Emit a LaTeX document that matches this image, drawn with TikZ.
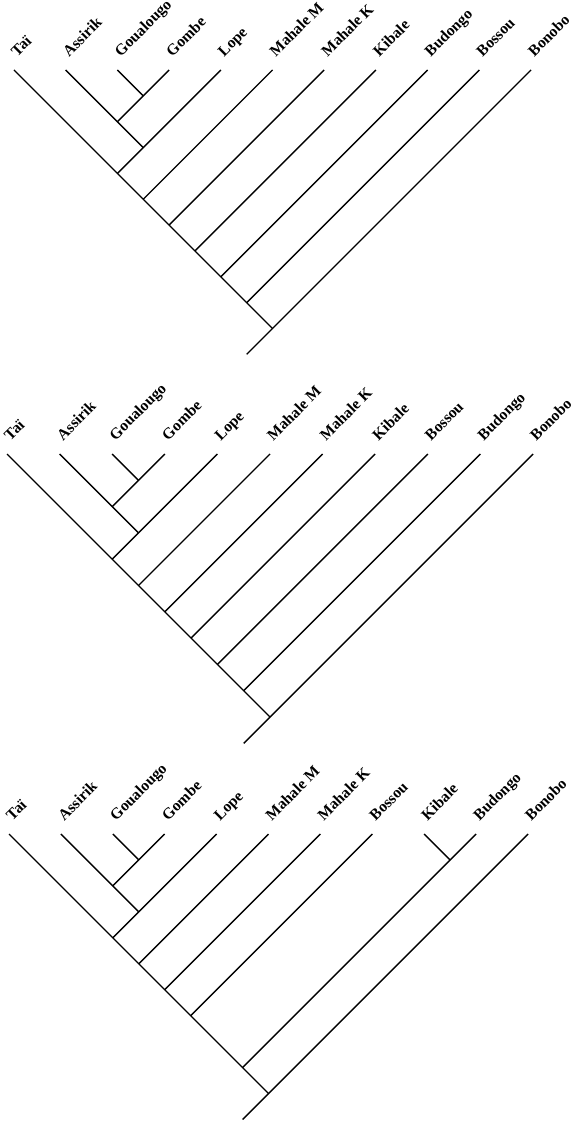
\documentclass[tikz,border=0pt]{standalone}
\usepackage{fontspec}
\setmainfont{Liberation Serif}
\usetikzlibrary{positioning}

\begin{document}
\begin{tikzpicture}[
    x=0.5pt, y=-0.5pt,
    branch/.style={line width=0.7pt},
    taxon/.style={anchor=base west, rotate=45, inner sep=0pt, font=\bfseries\fontsize{7.8}{9}\selectfont}
]
\useasboundingbox (0,0) rectangle (579,1122);

% tree 1
\begin{scope}[shift={(14,70)}, x=12.925pt, y=-12.925pt]
\coordinate (atai) at (0,0);
\coordinate (aass) at (2,0);
\coordinate (agou) at (4,0);
\coordinate (agom) at (6,0);
\coordinate (alope) at (8,0);
\coordinate (amahm) at (10,0);
\coordinate (amahk) at (12,0);
\coordinate (akib) at (14,0);
\coordinate (abud) at (16,0);
\coordinate (abos) at (18,0);
\coordinate (abon) at (20,0);
\coordinate (a1) at (5,1);
\coordinate (a2) at (4,2);
\coordinate (a3) at (5,3);
\coordinate (a4) at (4,4);
\coordinate (a5) at (5,5);
\coordinate (a6) at (6,6);
\coordinate (a7) at (7,7);
\coordinate (a8) at (8,8);
\coordinate (a9) at (9,9);
\coordinate (a10) at (10,10);
\coordinate (aroot) at (9,11);

\node[taxon] (ltai) at (0.12,-0.48) {Taï};
\node[taxon] (lass) at (2.12,-0.48) {Assirik};
\node[taxon] (lgou) at (4.12,-0.48) {Goualougo};
\node[taxon] (lgom) at (6.12,-0.48) {Gombe};
\node[taxon] (llope) at (8.12,-0.48) {Lope};
\node[taxon] (lmahm) at (10.12,-0.48) {Mahale M};
\node[taxon] (lmahk) at (12.12,-0.48) {Mahale K};
\node[taxon] (lkib) at (14.12,-0.48) {Kibale};
\node[taxon] (lbud) at (16.12,-0.48) {Budongo};
\node[taxon] (lbos) at (18.12,-0.48) {Bossou};
\node[taxon] (lbon) at (20.12,-0.48) {Bonobo};

\draw[branch] (atai) -- (a4) -- (a10);
\draw[branch] (aass) -- (a2) -- (a3);
\draw[branch] (agou) -- (a1);
\draw[branch] (agom) -- (a1) -- (a2);
\draw[branch] (alope) -- (a3) -- (a4);
\draw[branch] (amahm) -- (a5);
\draw[branch] (amahk) -- (a6);
\draw[branch] (akib) -- (a7);
\draw[branch] (abud) -- (a8);
\draw[branch] (abos) -- (a9);
\draw[branch] (abon) -- (a10) -- (aroot);
\end{scope}

% tree 2
\begin{scope}[shift={(7,454)}, x=13.15pt, y=-13.15pt]
\coordinate (btai) at (0,0);
\coordinate (bass) at (2,0);
\coordinate (bgou) at (4,0);
\coordinate (bgom) at (6,0);
\coordinate (blope) at (8,0);
\coordinate (bmahm) at (10,0);
\coordinate (bmahk) at (12,0);
\coordinate (bkib) at (14,0);
\coordinate (bbos) at (16,0);
\coordinate (bbud) at (18,0);
\coordinate (bbon) at (20,0);
\coordinate (b1) at (5,1);
\coordinate (b2) at (4,2);
\coordinate (b3) at (5,3);
\coordinate (b4) at (4,4);
\coordinate (b5) at (5,5);
\coordinate (b6) at (6,6);
\coordinate (b7) at (7,7);
\coordinate (b8) at (8,8);
\coordinate (b9) at (9,9);
\coordinate (b10) at (10,10);
\coordinate (broot) at (9,11);

\node[taxon] (mtai) at (0.12,-0.48) {Taï};
\node[taxon] (mass) at (2.12,-0.48) {Assirik};
\node[taxon] (mgou) at (4.12,-0.48) {Goualougo};
\node[taxon] (mgom) at (6.12,-0.48) {Gombe};
\node[taxon] (mlope) at (8.12,-0.48) {Lope};
\node[taxon] (mmahm) at (10.12,-0.48) {Mahale M};
\node[taxon] (mmahk) at (12.12,-0.48) {Mahale K};
\node[taxon] (mkib) at (14.12,-0.48) {Kibale};
\node[taxon] (mbos) at (16.12,-0.48) {Bossou};
\node[taxon] (mbud) at (18.12,-0.48) {Budongo};
\node[taxon] (mbon) at (20.12,-0.48) {Bonobo};

\draw[branch] (btai) -- (b4) -- (b10);
\draw[branch] (bass) -- (b2) -- (b3);
\draw[branch] (bgou) -- (b1);
\draw[branch] (bgom) -- (b1) -- (b2);
\draw[branch] (blope) -- (b3) -- (b4);
\draw[branch] (bmahm) -- (b5);
\draw[branch] (bmahk) -- (b6);
\draw[branch] (bkib) -- (b7);
\draw[branch] (bbos) -- (b8);
\draw[branch] (bbud) -- (b9);
\draw[branch] (bbon) -- (b10) -- (broot);
\end{scope}

% tree 3
\begin{scope}[shift={(9,834)}, x=12.975pt, y=-12.975pt]
\coordinate (ctai) at (0,0);
\coordinate (cass) at (2,0);
\coordinate (cgou) at (4,0);
\coordinate (cgom) at (6,0);
\coordinate (clope) at (8,0);
\coordinate (cmahm) at (10,0);
\coordinate (cmahk) at (12,0);
\coordinate (cbos) at (14,0);
\coordinate (ckib) at (16,0);
\coordinate (cbud) at (18,0);
\coordinate (cbon) at (20,0);
\coordinate (c1) at (5,1);
\coordinate (c2) at (4,2);
\coordinate (c3) at (5,3);
\coordinate (c4) at (4,4);
\coordinate (c5) at (5,5);
\coordinate (c6) at (6,6);
\coordinate (c7) at (7,7);
\coordinate (ck) at (17,1);
\coordinate (c9) at (9,9);
\coordinate (c10) at (10,10);
\coordinate (croot) at (9,11);

\node[taxon] (ntai) at (0.12,-0.48) {Taï};
\node[taxon] (nass) at (2.12,-0.48) {Assirik};
\node[taxon] (ngou) at (4.12,-0.48) {Goualougo};
\node[taxon] (ngom) at (6.12,-0.48) {Gombe};
\node[taxon] (nlope) at (8.12,-0.48) {Lope};
\node[taxon] (nmahm) at (10.12,-0.48) {Mahale M};
\node[taxon] (nmahk) at (12.12,-0.48) {Mahale K};
\node[taxon] (nbos) at (14.12,-0.48) {Bossou};
\node[taxon] (nkib) at (16.12,-0.48) {Kibale};
\node[taxon] (nbud) at (18.12,-0.48) {Budongo};
\node[taxon] (nbon) at (20.12,-0.48) {Bonobo};

\draw[branch] (ctai) -- (c4) -- (c10);
\draw[branch] (cass) -- (c2) -- (c3);
\draw[branch] (cgou) -- (c1);
\draw[branch] (cgom) -- (c1) -- (c2);
\draw[branch] (clope) -- (c3) -- (c4);
\draw[branch] (cmahm) -- (c5);
\draw[branch] (cmahk) -- (c6);
\draw[branch] (cbos) -- (c7);
\draw[branch] (ckib) -- (ck);
\draw[branch] (cbud) -- (ck) -- (c9);
\draw[branch] (cbon) -- (c10) -- (croot);
\end{scope}
\end{tikzpicture}
\end{document}
